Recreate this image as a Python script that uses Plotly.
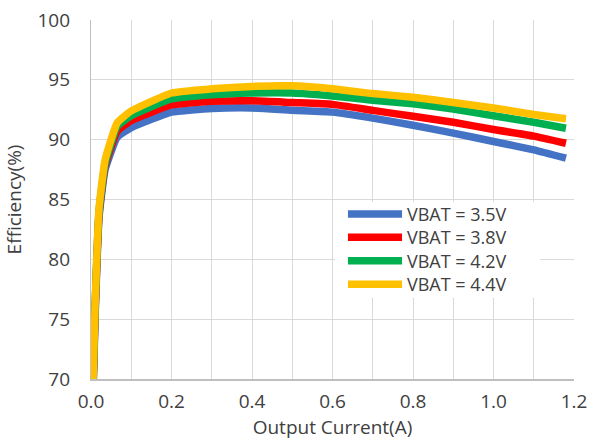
import plotly.graph_objects as go

# Output current (A)
current = [0.004, 0.01, 0.02, 0.035, 0.065, 0.1, 0.2, 0.3, 0.4, 0.5, 0.6,
           0.7, 0.8, 0.9, 1.0, 1.1, 1.18]

# Efficiency (%) for each battery voltage
eff_35 = [67.5, 75.0, 83.5, 87.5, 90.2, 91.0, 92.3, 92.6, 92.65, 92.45, 92.3,
          91.8, 91.2, 90.55, 89.85, 89.15, 88.45]
eff_38 = [68.0, 75.5, 83.8, 87.8, 90.7, 91.6, 92.9, 93.2, 93.25, 93.1, 92.95,
          92.45, 91.95, 91.45, 90.85, 90.3, 89.7]
eff_42 = [68.3, 75.8, 84.0, 88.0, 91.1, 92.0, 93.4, 93.75, 93.9, 93.9, 93.65,
          93.3, 93.0, 92.55, 92.0, 91.45, 90.95]
eff_44 = [68.5, 76.0, 84.3, 88.3, 91.4, 92.4, 93.9, 94.25, 94.45, 94.5, 94.25,
          93.85, 93.55, 93.1, 92.65, 92.1, 91.75]

series_names = ["VBAT = 3.5V", "VBAT = 3.8V", "VBAT = 4.2V", "VBAT = 4.4V"]
series_values = [eff_35, eff_38, eff_42, eff_44]
series_colors = ["#4472C4", "#FF0000", "#00B050", "#FFC000"]

x_ticks = [0.0, 0.2, 0.4, 0.6, 0.8, 1.0, 1.2]
x_tick_text = ["0.0", "0.2", "0.4", "0.6", "0.8", "1.0", "1.2"]
y_ticks = [70, 75, 80, 85, 90, 95, 100]

FONT = "Open Sans"
TEXT = "#404040"
GRID = "#D9D9D9"
LEGEND_SIZE = 18

fig = go.Figure()
for name, vals, col in zip(series_names, series_values, series_colors):
    fig.add_trace(go.Scatter(
        x=current, y=vals, name=name, mode="lines",
        line=dict(color=col, width=7.5, shape="spline", smoothing=0.4),
        showlegend=False,
    ))

# Legend block inside the plot area: white box, colour swatches, one text block
plot_h = 448 - 20 - 69
row_step = 1.3 * LEGEND_SIZE / plot_h          # annotation line spacing in paper units
legend_mid = 0.362
legend_rows_y = [legend_mid + (1.5 - i) * row_step for i in range(4)]

fig.add_shape(type="rect", xref="paper", yref="paper",
              x0=0.505, x1=0.930, y0=0.226, y1=0.493,
              fillcolor="white", line=dict(width=0), layer="above")
for col, yy in zip(series_colors, legend_rows_y):
    fig.add_shape(type="line", xref="paper", yref="paper",
                  x0=0.532, x1=0.644, y0=yy, y1=yy,
                  line=dict(color=col, width=7.5), layer="above")
fig.add_annotation(text="<br>".join(series_names), xref="paper", yref="paper",
                   x=0.650, y=legend_mid, xanchor="left", yanchor="middle",
                   align="left", showarrow=False,
                   font=dict(family=FONT, size=LEGEND_SIZE, color=TEXT))

fig.update_layout(
    width=590, height=448,
    margin=dict(l=91, r=16, t=20, b=69),
    paper_bgcolor="white", plot_bgcolor="white",
    font=dict(family=FONT, size=19, color=TEXT),
    xaxis=dict(
        range=[0, 1.2], tickvals=x_ticks, ticktext=x_tick_text,
        automargin=False,
        showgrid=True, gridcolor=GRID, gridwidth=1.3,
        minor=dict(dtick=0.1, tick0=0, showgrid=True, gridcolor=GRID, gridwidth=1.3),
        showline=True, linecolor="#BFBFBF", linewidth=1.5,
        zeroline=False, ticks="", ticklabelstandoff=4,
        title=dict(text="Output Current(A)", standoff=6,
                   font=dict(family=FONT, size=19, color=TEXT)),
    ),
    yaxis=dict(
        range=[70, 100], tickvals=y_ticks,
        automargin=False,
        showgrid=True, gridcolor=GRID, gridwidth=1.3,
        showline=True, linecolor="#BFBFBF", linewidth=1.3,
        zeroline=False, ticks="", ticklabelstandoff=16,
        title=dict(text="Efficiency(%)", standoff=10,
                   font=dict(family=FONT, size=19, color=TEXT)),
    ),
)

fig.write_html("out.html")
